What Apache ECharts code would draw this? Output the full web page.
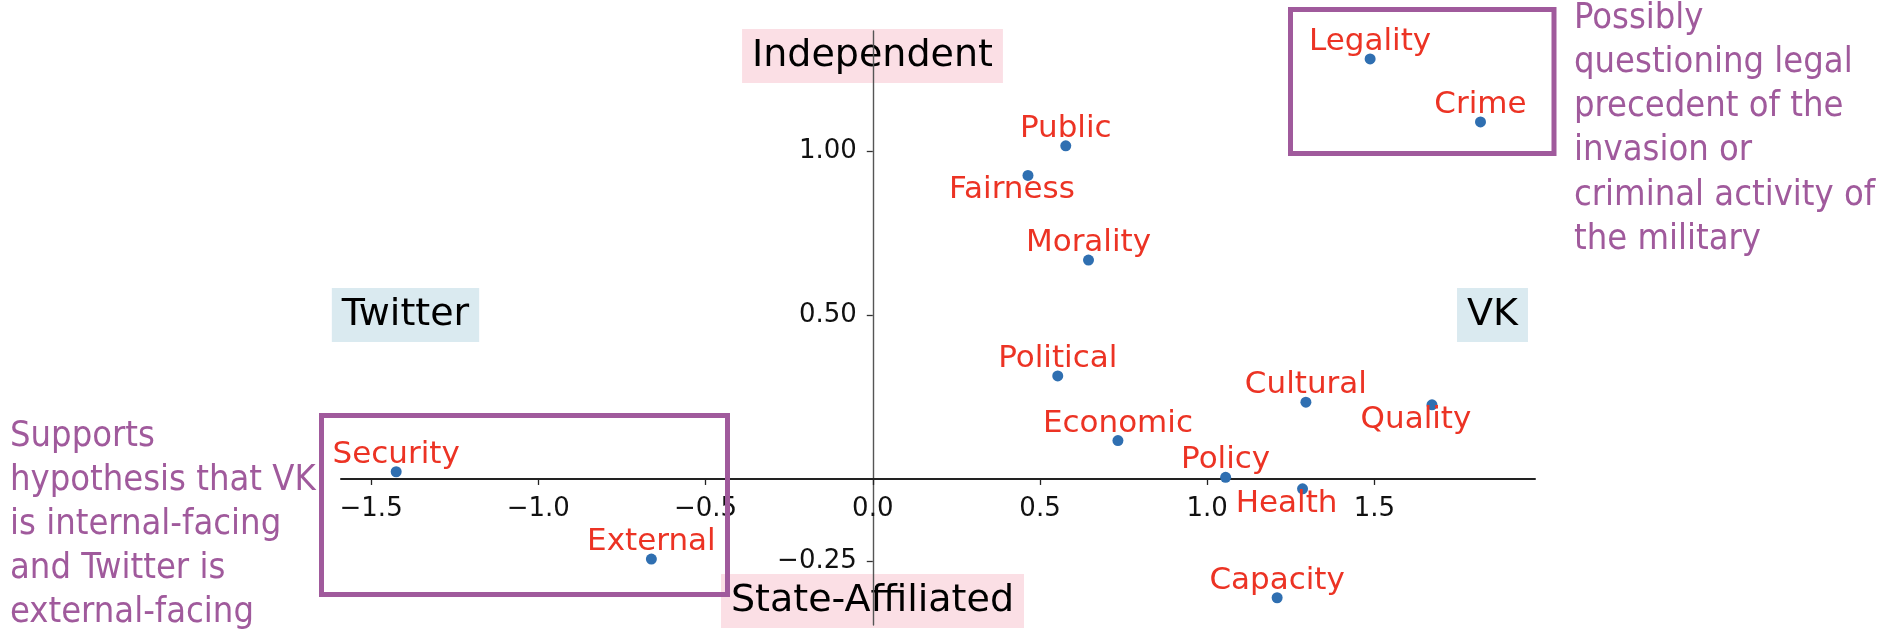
<!DOCTYPE html>
<html>
<head>
<meta charset="utf-8">
<script src="https://cdn.jsdelivr.net/npm/echarts@6/dist/echarts.min.js"></script>
<style>
  html, body { margin: 0; padding: 0; background: #fff; }
  #chart { width: 1878px; height: 635px; }
</style>
</head>
<body>
<div id="chart"></div>
<script>
// topic terms and their position (x: Twitter -> VK, y: state-affiliated -> independent)
const terms = ['Public', 'Fairness', 'Morality', 'Legality', 'Crime', 'Political', 'Cultural',
  'Quality', 'Economic', 'Policy', 'Health', 'Capacity', 'Security', 'External'];
const xValues = [0.577, 0.464, 0.645, 1.487, 1.817, 0.553, 1.295, 1.672, 0.733, 1.055, 1.285, 1.209, -1.425, -0.662];
const yValues = [1.015, 0.925, 0.667, 1.280, 1.088, 0.314, 0.234, 0.226, 0.117, 0.005, -0.030, -0.362, 0.022, -0.244];

const xTicks = [-1.5, -1.0, -0.5, 0.0, 0.5, 1.0, 1.5];
const yTicks = [-0.25, 0.5, 1.0];

// these labels sit under their dot instead of above
const labelBelow = ['Fairness', 'Quality', 'Health'];

const FONT = '"DejaVu Sans", sans-serif';
const NOTE_FONT = '"DejaVu Sans Condensed", "DejaVu Sans", sans-serif';
const PURPLE = '#a05a9c';
const RED = '#ec3324';

const X_MIN = -1.59, X_MAX = 1.98;
const Y_MIN = -0.445, Y_MAX = 1.365;
const GRID = { left: 341, right: 343, top: 31, bottom: 10 };
const W = 1878, H = 635;

const fmt = (v, d) => v.toFixed(d).replace('-', '\u2212');

// spines sit on zero, move the axes there with offset
const plotW = W - GRID.left - GRID.right;
const plotH = H - GRID.top - GRID.bottom;
const xAxisOffset = -(0 - Y_MIN) / (Y_MAX - Y_MIN) * plotH;
const yAxisOffset = -(0 - X_MIN) / (X_MAX - X_MIN) * plotW;

const points = terms.map((name, i) => {
  const below = labelBelow.indexOf(name) >= 0;
  return {
    name: name,
    value: [xValues[i], yValues[i]],
    label: { offset: below ? [-16, 15] : [0, -17] }
  };
});

const chart = echarts.init(document.getElementById('chart'), null, { renderer: 'canvas' });

const quadrant = (text, x, y, bg) => ({
  type: 'text',
  z: -10,
  style: {
    text: text, x: x, y: y, align: 'center', verticalAlign: 'middle',
    font: '38px ' + FONT, fill: '#000', backgroundColor: bg,
    padding: [5, 10], lineHeight: 44
  }
});

chart.setOption({
  animation: false,
  grid: Object.assign({ outerBoundsMode: 'none', containLabel: false }, GRID),
  xAxis: {
    type: 'value',
    min: X_MIN,
    max: X_MAX,
    position: 'bottom',
    offset: xAxisOffset,
    splitLine: { show: false },
    axisLine: { onZero: false, lineStyle: { color: '#222', width: 2 } },
    axisTick: { customValues: xTicks, length: 6, lineStyle: { color: '#222', width: 1.3 } },
    axisLabel: {
      customValues: xTicks, margin: 17,
      fontFamily: FONT, fontSize: 26, color: '#111',
      formatter: v => fmt(v, 1)
    }
  },
  yAxis: {
    type: 'value',
    min: Y_MIN,
    max: Y_MAX,
    position: 'left',
    offset: yAxisOffset,
    splitLine: { show: false },
    axisLine: { onZero: false, lineStyle: { color: '#555', width: 1.4 } },
    axisTick: { customValues: yTicks, length: 6, lineStyle: { color: '#333', width: 1.3 } },
    axisLabel: {
      customValues: yTicks, margin: 16,
      fontFamily: FONT, fontSize: 26, color: '#111',
      formatter: v => fmt(v, 2)
    }
  },
  series: [{
    type: 'scatter',
    symbolSize: 11,
    itemStyle: { color: '#2f6fb1', opacity: 1 },
    label: {
      show: true,
      position: 'inside',
      formatter: p => p.name,
      fontFamily: FONT,
      fontSize: 31,
      color: RED,
      opacity: 1
    },
    data: points
  }],
  graphic: [
    quadrant('Independent', 872.5, 56, '#fbdfe5'),
    quadrant('State-Affiliated', 872.5, 601, '#fbdfe5'),
    quadrant('Twitter', 405.5, 315, '#daeaf0'),
    quadrant('VK', 1492.5, 315, '#daeaf0'),
    {
      type: 'rect', z: 100,
      shape: { x: 1290.5, y: 9.5, width: 263.5, height: 144 },
      style: { fill: 'none', stroke: PURPLE, lineWidth: 5 }
    },
    {
      type: 'rect', z: 100,
      shape: { x: 321.5, y: 415.5, width: 406, height: 179 },
      style: { fill: 'none', stroke: PURPLE, lineWidth: 5 }
    },
    {
      type: 'text', z: 100,
      style: {
        text: 'Possibly\nquestioning legal\nprecedent of the\ninvasion or\ncriminal activity of\nthe military',
        x: 1574, y: -4, align: 'left', verticalAlign: 'top',
        font: '36px ' + NOTE_FONT, fill: PURPLE, lineHeight: 44.3
      }
    },
    {
      type: 'text', z: 100,
      style: {
        text: 'Supports\nhypothesis that VK\nis internal-facing\nand Twitter is\nexternal-facing',
        x: 10, y: 414.5, align: 'left', verticalAlign: 'top',
        font: '36px ' + NOTE_FONT, fill: PURPLE, lineHeight: 44
      }
    }
  ]
});
</script>
</body>
</html>
